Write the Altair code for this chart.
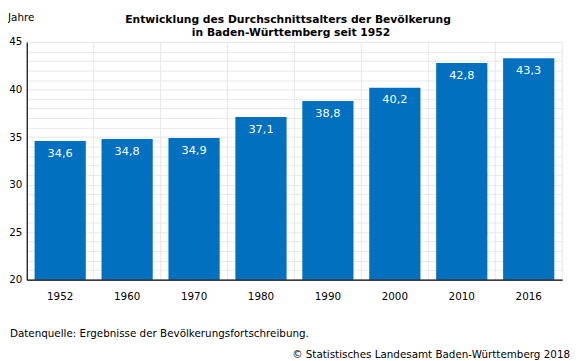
import altair as alt
import pandas as pd

years = ["1952", "1960", "1970", "1980", "1990", "2000", "2010", "2016"]
values = [34.6, 34.8, 34.9, 37.1, 38.8, 40.2, 42.8, 43.3]
labels = ["34,6", "34,8", "34,9", "37,1", "38,8", "40,2", "42,8", "43,3"]
y_ticks = list(range(20, 46))
grid_positions = [1, 2, 3, 4, 5, 6, 7, 8]

title_lines = ["Entwicklung des Durchschnittsalters der Bevölkerung",
               "in Baden-Württemberg seit 1952"]
unit_label = "Jahre"
source_text = "Datenquelle: Ergebnisse der Bevölkerungsfortschreibung."
copyright_text = "© Statistisches Landesamt Baden-Württemberg 2018"

FONT = "DejaVu Sans"
BLUE = "#0070bf"
W, H = 543, 241

df = pd.DataFrame({"year": years, "value": values, "label": labels})
grid_df = pd.DataFrame({"g": grid_positions})

vgrid = alt.Chart(grid_df).mark_rule(color="#e8e8e8", strokeWidth=1).encode(
    x=alt.X("g:Q", scale=alt.Scale(domain=[0, 8], nice=False, zero=False), axis=None),
    y=alt.value(0),
    y2=alt.value(H),
)

xaxis = alt.Axis(
    labelAngle=0, ticks=False, domainColor="#000000", domainWidth=1.2,
    labelFont=FONT, labelFontSize=10.5, labelColor="#000000", labelPadding=12,
    grid=False, zindex=1,
)
xscale = alt.Scale(paddingInner=0.235, paddingOuter=0.1175)
yaxis = alt.Axis(
    values=y_ticks,
    labelExpr="datum.value % 5 == 0 ? datum.label : ''",
    labelOverlap=False,
    ticks=False, domainColor="#000000", domainWidth=1.2,
    labelFont=FONT, labelFontSize=10.5, labelColor="#000000", labelPadding=5,
    grid=True, gridColor="#e8e8e8", gridWidth=1, zindex=0,
)
yscale = alt.Scale(domain=[20, 45], nice=False, zero=False)

xenc = alt.X("year:N", sort=years, title=None, scale=xscale, axis=xaxis)
yenc = alt.Y("value:Q", title=None, scale=yscale, axis=yaxis)

bars = alt.Chart(df).mark_bar(color=BLUE).encode(x=xenc, y=yenc, y2=alt.datum(20))
bar_text = alt.Chart(df).mark_text(
    color="white", font=FONT, fontSize=11.5, baseline="middle", dy=13
).encode(x=xenc, y=yenc, text="label:N")

def txt(t, x, y, align="left", weight="normal", size=10.5):
    return alt.Chart(pd.DataFrame({"t": [t]})).mark_text(
        font=FONT, fontSize=size, fontWeight=weight, align=align,
        baseline="alphabetic", color="#000000"
    ).encode(text="t:N", x=alt.value(x), y=alt.value(y))

texts = [
    txt(unit_label, -19, -21),
    txt(title_lines[0], 265, -19, align="center", weight="bold", size=10.9),
    txt(title_lines[1], 268, -6, align="center", weight="bold", size=10.9),
    txt(source_text, -17, 299),
    txt(copyright_text, 551, 320, align="right"),
]

main = alt.layer(bars, bar_text)
chart = alt.layer(vgrid, main, *texts).resolve_scale(x="independent").properties(
    width=W, height=H,
    autosize=alt.AutoSizeParams(type="none"),
    padding={"left": 19, "top": 32, "right": 12, "bottom": 82},
).configure_view(stroke=None)

chart.save("out.html", embed_options={"renderer": "svg", "actions": False})
